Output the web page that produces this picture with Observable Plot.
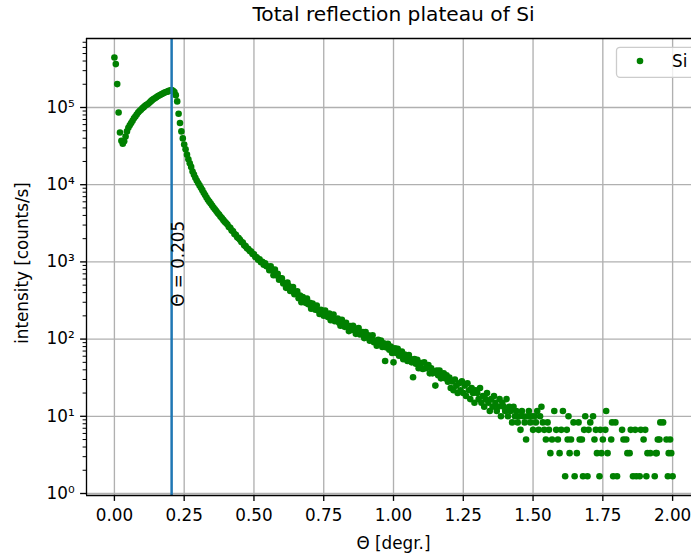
<!DOCTYPE html>
<html><head><meta charset="utf-8">
<script src="https://cdn.jsdelivr.net/npm/d3@7"></script>
<script src="https://cdn.jsdelivr.net/npm/@observablehq/plot@0.6"></script>
<style>
html,body{margin:0;padding:0;background:#fff;overflow:hidden}
#wrap{position:relative;width:691px;height:557px;overflow:hidden;font-family:"DejaVu Sans",sans-serif}
#legend{position:absolute;left:0;top:0;pointer-events:none}
</style></head><body><div id="wrap"></div>
<script>
// main scan (step 0.005 deg)
const theta = [
0,0.005,0.01,0.015,0.02,0.025,0.03,0.035,0.04,0.045,
0.05,0.055,0.06,0.065,0.07,0.075,0.08,0.085,0.09,0.095,
0.1,0.105,0.11,0.115,0.12,0.125,0.13,0.135,0.14,0.145,
0.15,0.155,0.16,0.165,0.17,0.175,0.18,0.185,0.19,0.195,
0.2,0.205,0.21,0.215,0.22,0.225,0.23,0.235,0.24,0.245,
0.25,0.255,0.26,0.265,0.27,0.275,0.28,0.285,0.29,0.295,
0.3,0.305,0.31,0.315,0.32,0.325,0.33,0.335,0.34,0.345,
0.35,0.355,0.36,0.365,0.37,0.375,0.38,0.385,0.39,0.395,
0.4,0.405,0.41,0.415,0.42,0.425,0.43,0.435,0.44,0.445,
0.45,0.455,0.46,0.465,0.47,0.475,0.48,0.485,0.49,0.495,
0.5,0.505,0.51,0.515,0.52,0.525,0.53,0.535,0.54,0.545,
0.55,0.555,0.56,0.565,0.57,0.575,0.58,0.585,0.59,0.595,
0.6,0.605,0.61,0.615,0.62,0.625,0.63,0.635,0.64,0.645,
0.65,0.655,0.66,0.665,0.67,0.675,0.68,0.685,0.69,0.695,
0.7,0.705,0.71,0.715,0.72,0.725,0.73,0.735,0.74,0.745,
0.75,0.755,0.76,0.765,0.77,0.775,0.78,0.785,0.79,0.795,
0.8,0.805,0.81,0.815,0.82,0.825,0.83,0.835,0.84,0.845,
0.85,0.855,0.86,0.865,0.87,0.875,0.88,0.885,0.89,0.895,
0.9,0.905,0.91,0.915,0.92,0.925,0.93,0.935,0.94,0.945,
0.95,0.955,0.96,0.965,0.97,0.975,0.98,0.985,0.99,0.995,
1,1.005,1.01,1.015,1.02,1.025,1.03,1.035,1.04,1.045,
1.05,1.055,1.06,1.065,1.07,1.075,1.08,1.085,1.09,1.095,
1.1,1.105,1.11,1.115,1.12,1.125,1.13,1.135,1.14,1.145,
1.15,1.155,1.16,1.165,1.17,1.175,1.18,1.185,1.19,1.195,
1.2,1.205,1.21,1.215,1.22,1.225,1.23,1.235,1.24,1.245,
1.25,1.255,1.26,1.265,1.27,1.275,1.28,1.285,1.29,1.295,
1.3,1.305,1.31,1.315,1.32,1.325,1.33,1.335,1.34,1.345,
1.35,1.355,1.36,1.365,1.37,1.375,1.38,1.385,1.39,1.395,
1.4,1.405,1.41,1.415,1.42,1.425,1.43,1.435,1.44,1.445,
1.45,1.455,1.46,1.465,1.47,1.475,1.48,1.485,1.49,1.495,
1.5,1.505,1.51,1.515,1.52,1.525,1.53,1.535,1.54
];
const intensity = [
444000,365000,201000,86000,47400,37000,34000,36500,42000,49000,
54500,59000,63000,67500,72500,76500,81000,86000,90000,93500,
97500,101000,105000,108500,111000,115000,120000,124500,128500,132000,
136000,139500,143000,146500,149500,153000,156500,158500,160500,164000,
166000,168000,164000,158500,144500,120000,83000,63000,49000,39800,
33100,28800,24500,21400,19000,17000,14800,13500,12300,11350,
10500,9800,9100,8500,7850,7330,6840,6380,6030,5690,
5370,5070,4800,4570,4300,4120,3870,3700,3500,3320,
3180,3050,2830,2760,2560,2490,2300,2250,2080,2030,
1940,1810,1780,1640,1600,1500,1470,1380,1360,1270,
1250,1160,1150,1070,1080,990,1000,920,960,880,
871,781,876,792,673,793,669,700,589,613,
615,525,532,461,542,488,420,430,473,382,
389,415,339,367,301,351,320,295,336,282,
296,248,289,261,240,273,235,212,239,224,
201,235,209,194,215,176,200,208,170,177,
184,163,149,178,158,144,163,147,127,148,
131,149,132,117,136,139,115,119,123,103,
123,105,112,95,102,112,91,95,82,98,
89,96,79,88,52,78,87,73,80,66,
50,76,66,75,61,64,69,55,63,56,
52,62,55,50,32,55,48,54,42,49,
49,41,50,42,43,46,36,42,36,38,
25,39,34,39,31,34,36,31,34,28,
31.7,23.3,28.3,21.7,30,25,20,26.7,21.7,28.3,
20,25,18.3,26.7,21.7,16.7,23.3,20,15,21.7,
20,16.7,23.3,15,18.3,13.3,16.7,20,15,11.7,
16.7,13.3,18.3,15,11.7,13.3,16.7,10,15,13.3,
11.7,16.7,10,13.3,11.7,8.33,13.3,10,11.7,8.33,
10,6.67,11.7,10,8.33,5,10,11.7,8.33,10,
6.67,10,8.33,11.7,6.67,10,13.3,8.33,6.67
];
// sparse tail (counting-noise levels)
const thetaTail = [
1.546,1.552,1.557,1.562,1.568,1.576,1.583,1.589,1.595,1.601,
1.607,1.615,1.621,1.624,1.627,1.631,1.636,1.645,1.649,1.657,
1.663,1.667,1.675,1.679,1.683,1.687,1.695,1.699,1.705,1.715,
1.720,1.725,1.729,1.738,1.741,1.745,1.750,1.759,1.762,1.767,
1.780,1.783,1.787,1.795,1.801,1.819,1.824,1.834,1.838,1.846,
1.850,1.858,1.866,1.870,1.882,1.886,1.896,1.902,1.906,1.910,
1.920,1.936,1.940,1.943,1.947,1.953,1.956,1.966,1.978,1.983,
1.986,1.991,1.995,2.0
];
const intensityTail = [
5,8.33,6.67,3.33,5,11.7,6.67,5,3.33,6.67,
11.7,1.67,6.67,5,10,3.33,5,8.33,1.67,3.33,
8.33,5,5,1.67,6.67,10,1.67,6.67,8.33,10,
5,6.67,3.33,1.67,6.67,3.33,5,6.67,11.7,3.33,
5,8.33,1.67,8.33,1.67,6.67,5,5,3.33,3.33,
6.67,1.67,6.67,1.67,1.67,6.67,5,6.67,1.67,3.33,
3.33,1.67,3.33,3.33,5,5,8.33,8.33,5,1.67,
3.33,5,3.33,1.67
];
const xTicks = [0, 0.25, 0.5, 0.75, 1, 1.25, 1.5, 1.75, 2];
const yTicks = [1, 10, 100, 1000, 10000, 100000];
const thetaCrit = 0.205;
const critLabel = "Θ = 0.205";
const titleText = "Total reflection plateau of Si";
const xLabel = "Θ [degr.]";
const yLabel = "intensity [counts/s]";
const seriesName = "Si";

const points = theta.map((t, i) => ({t, v: intensity[i]}))
  .concat(thetaTail.map((t, i) => ({t, v: intensityTail[i]})));

const xDomain = [-0.1, 2.0677];
const yDomain = [0.942, 7.83e5];
const minorTicks = [];
for (let e = 0; e <= 5; e++) for (let k = 2; k <= 9; k++) {
  const v = k * Math.pow(10, e);
  if (v < yDomain[1]) minorTicks.push(v);
}
const supDigits = {"0":"⁰","1":"¹","2":"²","3":"³","4":"⁴","5":"⁵","6":"⁶","7":"⁷","8":"⁸","9":"⁹"};
const fmtPow = d => "10" + String(Math.round(Math.log10(d))).split("").map(c => supDigits[c]).join("");

const FS = 16.8, LW = 1.34;
const chart = Plot.plot({
  width: 691, height: 557,
  marginLeft: 86, marginRight: 0, marginTop: 38, marginBottom: 62,
  style: {fontFamily: "DejaVu Sans", fontSize: FS + "px", color: "#000", background: "#fff", overflow: "visible"},
  x: {domain: xDomain},
  y: {type: "log", domain: yDomain},
  marks: [
    Plot.gridX(xTicks, {stroke: "#b0b0b0", strokeOpacity: 1, strokeWidth: LW}),
    Plot.gridY(yTicks, {stroke: "#b0b0b0", strokeOpacity: 1, strokeWidth: LW}),
    Plot.dot(points, {x: "t", y: "v", r: 3.3, fill: "#008000", stroke: "none"}),
    Plot.ruleX([thetaCrit], {stroke: "#1f77b4", strokeWidth: 2.5}),
    Plot.text([critLabel], {x: thetaCrit, y: 262, rotate: -90, textAnchor: "start", lineAnchor: "top", fontSize: FS, fill: "#000"}),
    // spines (left, bottom, top; right one lies outside the window)
    Plot.ruleX([xDomain[0]], {stroke: "#000", strokeWidth: LW}),
    Plot.ruleY([yDomain[0], yDomain[1]], {stroke: "#000", strokeWidth: LW}),
    Plot.axisX(xTicks, {tickFormat: d3.format(".2f"), tickSize: 5.9, tickPadding: 7.5, strokeWidth: LW, label: null, fontSize: FS}),
    Plot.axisY(yTicks, {tickFormat: fmtPow, tickSize: 5.9, tickPadding: 5.9, strokeWidth: LW, label: null, fontSize: FS}),
    Plot.axisY(minorTicks, {tickFormat: () => "", tickSize: 3.4, strokeWidth: 1, label: null}),
    Plot.text([titleText], {x: 1.0, frameAnchor: "top", lineAnchor: "bottom", dy: -18, fontSize: 20.2, fill: "#000"}),
    Plot.text([xLabel], {x: 1.0, frameAnchor: "bottom", lineAnchor: "bottom", dy: 53, fontSize: FS, fill: "#000"}),
    Plot.text([yLabel], {frameAnchor: "left", rotate: -90, dx: -64, dy: -4, lineAnchor: "middle", textAnchor: "middle", fontSize: FS, fill: "#000"})
  ]
});
const wrap = document.getElementById("wrap");
wrap.appendChild(chart);

// legend (upper right, clipped by the window as in the reference)
const ns = "http://www.w3.org/2000/svg";
const lg = document.createElementNS(ns, "svg");
lg.setAttribute("id", "legend");
lg.setAttribute("width", 691); lg.setAttribute("height", 557);
lg.innerHTML = `<rect x="616.5" y="47.3" width="90" height="30" rx="3.5" fill="#fff" fill-opacity="0.8" stroke="#cccccc" stroke-width="1.3"/>
<circle cx="640" cy="61" r="3.3" fill="#008000"/>
<text x="672" y="67" font-family="DejaVu Sans" font-size="${FS}" fill="#000">${seriesName}</text>`;
wrap.appendChild(lg);
</script>
</body></html>
